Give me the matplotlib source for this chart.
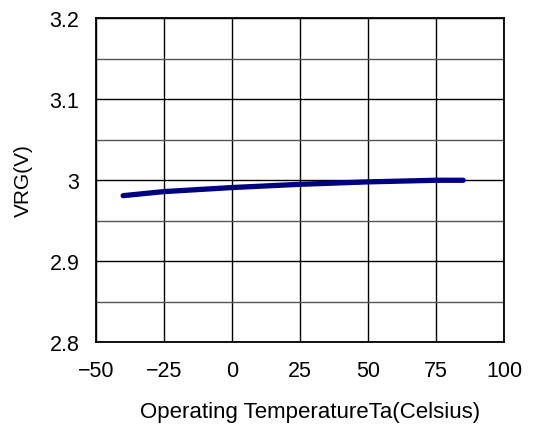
import matplotlib
matplotlib.use("Agg")
import matplotlib.pyplot as plt
import numpy as np

temps = [-40, -25, 0, 25, 50, 75, 85]
vrg = [2.981, 2.986, 2.991, 2.995, 2.998, 3.000, 3.000]

x_ticks = [-50, -25, 0, 25, 50, 75, 100]
x_ticklabels = ["\u221250", "\u221225", "0", "25", "50", "75", "100"]
y_ticks = [2.8, 2.9, 3.0, 3.1, 3.2]
y_ticklabels = ["2.8", "2.9", "3", "3.1", "3.2"]
y_minor = [2.85, 2.95, 3.05, 3.15]

plt.rcParams['font.family'] = ['Liberation Sans', 'DejaVu Sans']

W, H = 533, 427
fig = plt.figure(figsize=(W / 100, H / 100), dpi=100)
ax = fig.add_axes([0.180, 0.196, 0.7655, 0.759])

ax.set_xlim(-50, 100)
ax.set_ylim(2.8, 3.2)
ax.set_xticks(x_ticks)
ax.set_xticklabels(x_ticklabels, fontsize=15.5)
ax.set_yticks(y_ticks)
ax.set_yticklabels(y_ticklabels, fontsize=15.5)
ax.set_yticks(y_minor, minor=True)
ax.tick_params(which='both', length=0)
ax.tick_params(axis='y', pad=12)
ax.tick_params(axis='x', pad=13)
ax.grid(True, which='major', color='black', linewidth=1.0)
ax.grid(True, which='minor', axis='y', color='#555555', linewidth=1.0)
ax.set_axisbelow(True)
for s in ax.spines.values():
    s.set_color('black')
    s.set_linewidth(1.3)

ax.plot(temps, vrg, color='#000080', linewidth=3.8, solid_capstyle='round')

fig.text(23 / W, 1 - 181 / H, "VRG(V)", fontsize=15, rotation=90,
         ha='center', va='center')
fig.text(310 / W, 1 - 413 / H, "Operating TemperatureTa(Celsius)", fontsize=16,
         ha='center', va='center')

fig.savefig("out.png", dpi=100)
